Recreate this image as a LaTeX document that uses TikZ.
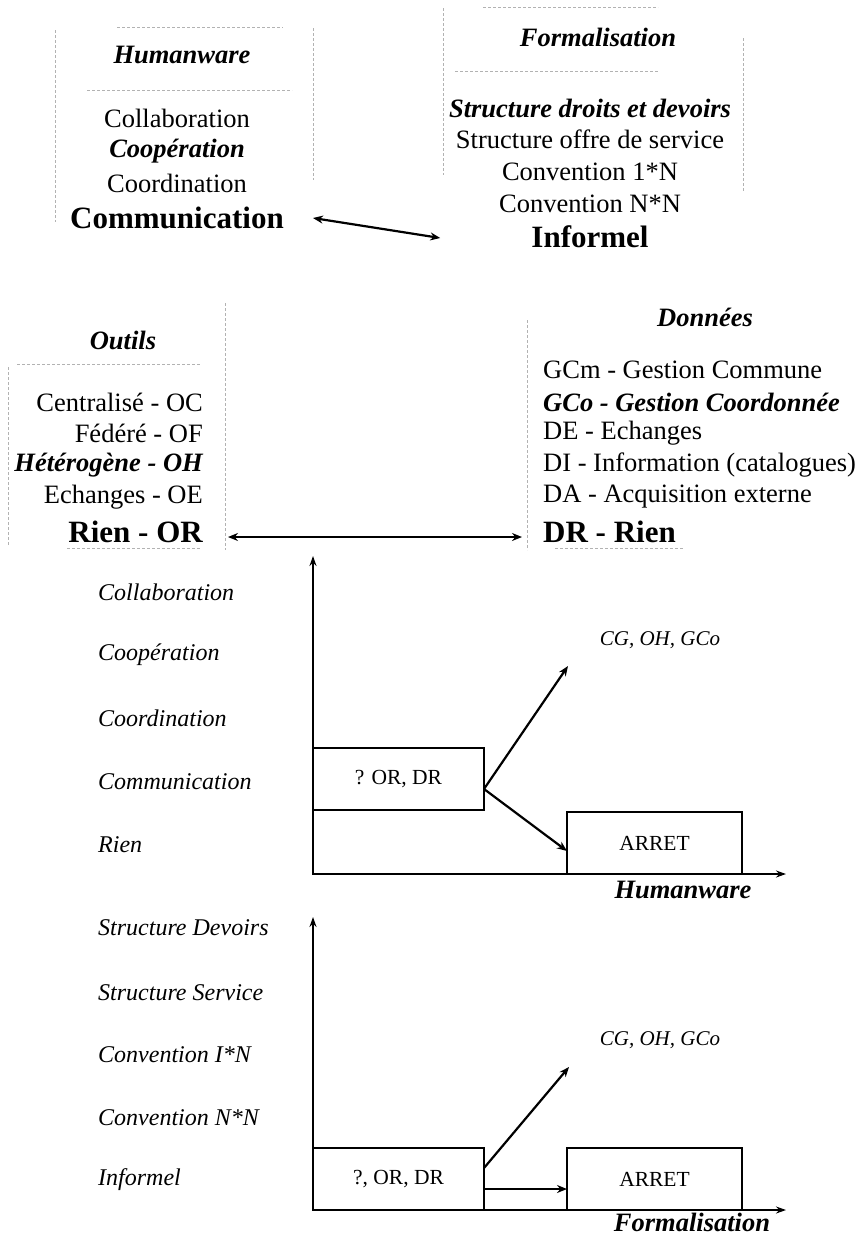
\documentclass[tikz,border=0pt]{standalone}
\usepackage{fontspec}
\setmainfont{Liberation Serif}
\usetikzlibrary{arrows.meta}

\tikzstyle{item}=[inner sep=0pt, font=\fontsize{26.5}{30}\selectfont]
\tikzstyle{head}=[inner sep=0pt, font=\fontsize{26.5}{30}\selectfont\bfseries\itshape]
\tikzstyle{strong}=[inner sep=0pt, font=\fontsize{31}{34}\selectfont\bfseries]
\tikzstyle{level}=[inner sep=0pt, anchor=west, font=\fontsize{24}{28}\selectfont\itshape]
\tikzstyle{state}=[draw, line width=1.4pt, minimum width=171pt, minimum height=62pt, anchor=north west, inner sep=0pt, outer sep=0pt, font=\fontsize{21.5}{24}\selectfont]
\tikzstyle{goal}=[inner sep=0pt, font=\fontsize{21}{24}\selectfont\itshape]
\tikzstyle{axis}=[draw, line width=2.4pt, {Stealth[length=10pt,width=7pt]}-{Stealth[length=10pt,width=7pt]}]
\tikzstyle{link}=[draw, line width=2.2pt, -{Stealth[length=10pt,width=8pt]}]
\tikzstyle{both}=[link, {Stealth[length=10pt,width=8pt]}-{Stealth[length=10pt,width=8pt]}]
\tikzstyle{frame}=[draw, gray!60, densely dashed, line width=0.5pt]

\begin{document}
\begin{tikzpicture}[x=1pt, y=-1pt]
    \useasboundingbox (0,0) rectangle (866,1235);
    % faint frames of the text boxes
    \draw[frame] (117,27) -- (283,27) (55,30) -- (55,222) (313,28) -- (313,180) (87,90) -- (292,90);
    \draw[frame] (483,7) -- (658,7) (443,8) -- (443,175) (743,38) -- (743,192) (455,71) -- (658,71);
    \draw[frame] (17,364) -- (200,364) (8,367) -- (8,545) (225,303) -- (225,550) (67,548) -- (200,548);
    \draw[frame] (527,320) -- (527,550) (555,548) -- (683,548);
    % Humanware and Formalisation
    \node[head] (hw) at (182,55) {Humanware};
    \foreach \pos/\name/\sty/\txt in {{(177,118)/hcol/item/Collaboration}, {(177,151)/hcop/head/Coopération},
        {(177,183)/hcoo/item/Coordination}, {(177,218)/hcom/strong/Communication}}
        \node[\sty] (\name) at \pos {\txt};
    \node[head] (fm) at (598,37) {Formalisation};
    \foreach \pos/\name/\sty/\txt in {{(590,108)/fsd/head/Structure droits et devoirs}, {(590,139)/fso/item/Structure offre de service},
        {(590,172)/fc1/item/Convention 1*N}, {(590,204)/fcn/item/Convention N*N}, {(590,237)/finf/strong/Informel}}
        \node[\sty] (\name) at \pos {\txt};
    \path[both] ([xshift=29pt]hcom.east) -- ([xshift=-91pt,yshift=-1pt]finf.west);
    % Outils and Donnees
    \node[head] (ot) at (123,340) {Outils};
    \foreach \pos/\name/\sty/\txt in {{(203,402)/oc/item/Centralisé - OC}, {(203,433)/of/item/Fédéré - OF},
        {(203,465)/oh/head/Hétérogène - OH}, {(203,497)/oe/item/Echanges - OE}, {(203,532)/or/strong/Rien - OR}}
        \node[\sty, anchor=east] (\name) at \pos {\txt};
    \node[head] (dn) at (705,317) {Données};
    \foreach \pos/\name/\sty/\txt in {{(543,370)/gcm/item/GCm - Gestion Commune}, {(543,402)/gco/head/GCo - Gestion Coordonnée},
        {(543,433)/de/item/DE - Echanges}, {(543,465)/di/item/DI - Information (catalogues)},
        {(543,497)/da/item/DA - Acquisition externe}, {(543,532)/dr/strong/DR - Rien}}
        \node[\sty, anchor=west] (\name) at \pos {\txt};
    \path[both] ([xshift=25pt,yshift=-5pt]or.east) -- ([xshift=-21pt,yshift=-5pt]dr.west);
    % First graph: Humanware
    \foreach \pos/\txt in {{(98,592)/Collaboration}, {(98,655)/Coopération}, {(98,718)/Coordination},
        {(98,782)/Communication}, {(98,845)/Rien}}
        \node[level] at \pos {\txt};
    \coordinate (o1) at (313,874);
    \coordinate (y1) at (313,556);
    \coordinate (x1) at (786,874);
    \path[axis] (y1) -- (o1) -- (x1);
    \node[state] (q1) at (313,748) {? OR, DR};
    \node[state, minimum width=175pt] (a1) at (567,812) {ARRET};
    \node[goal] (g1) at (660,640) {CG, OH, GCo};
    \coordinate (t1) at (568,666);
    \path[link] ([yshift=-10pt]q1.east) -- (t1);
    \path[link] ([yshift=-10pt]q1.east) -- ([yshift=-8pt]a1.west);
    \node[head] (hx1) at (683,890) {Humanware};
    % Second graph: Formalisation
    \foreach \pos/\txt in {{(98,928)/Structure Devoirs}, {(98,993)/Structure Service}, {(98,1055)/Convention I*N},
        {(98,1118)/Convention N*N}, {(98,1180)/Informel}}
        \node[level] at \pos {\txt};
    \coordinate (o2) at (313,1210);
    \coordinate (y2) at (313,917);
    \coordinate (x2) at (786,1210);
    \path[axis] (y2) -- (o2) -- (x2);
    \node[state] (q2) at (313,1148) {?, OR, DR};
    \node[state, minimum width=175pt] (a2) at (567,1148) {ARRET};
    \node[goal] (g2) at (660,1040) {CG, OH, GCo};
    \coordinate (t2) at (569,1067);
    \path[link] ([yshift=11pt]q2.east) -- (t2);
    \path[link] ([yshift=-10pt]q2.east) -- ([yshift=-10pt]a2.west);
    \node[head] (hx2) at (692,1222) {Formalisation};
\end{tikzpicture}
\end{document}
